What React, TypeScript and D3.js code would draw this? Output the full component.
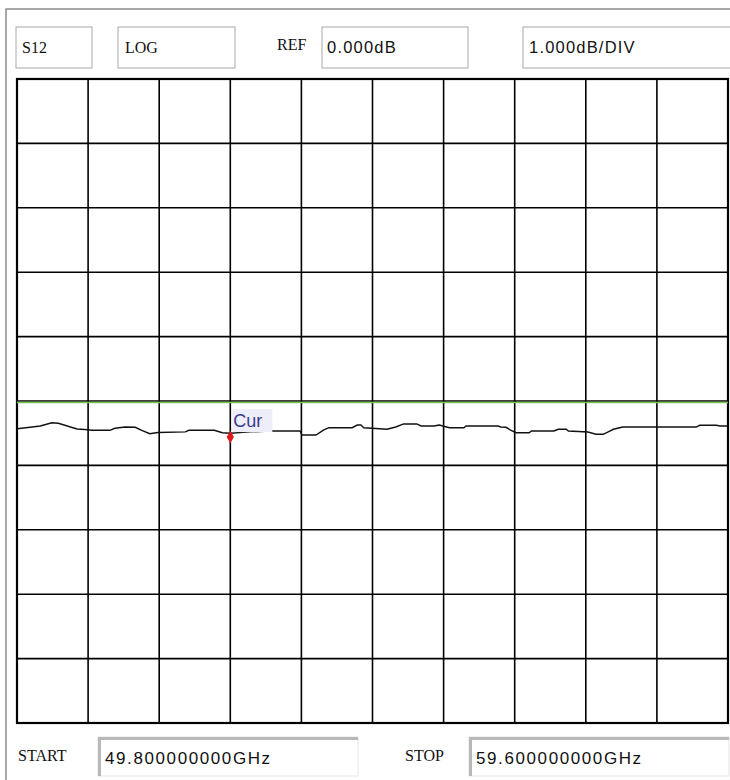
import React from 'react';
import * as d3 from 'd3';

// header / footer readouts
const param = 'S12';
const format = 'LOG';
const refLabel = 'REF';
const refValue = '0.000dB';
const scaleValue = '1.000dB/DIV';
const startLabel = 'START';
const startValue = '49.800000000GHz';
const stopLabel = 'STOP';
const stopValue = '59.600000000GHz';

const startGHz = 49.8;
const stopGHz = 59.6;
const refDb = 0;
const dbPerDiv = 1;
const divisions = 10;

// measured trace, frequency (GHz) and level (dB)
const traceFreq = [
  49.80, 50.01, 50.12, 50.28, 50.37, 50.46, 50.57, 50.63, 50.78, 50.83,
  51.08, 51.15, 51.29, 51.43, 51.52, 51.63, 51.74, 52.12, 52.17, 52.52,
  52.63, 52.74, 53.01, 53.29, 53.70, 53.73, 53.92, 54.03, 54.10, 54.42,
  54.49, 54.54, 54.58, 54.90, 55.02, 55.13, 55.31, 55.37, 55.55, 55.62,
  55.76, 55.96, 55.99, 56.43, 56.47, 56.54, 56.61, 56.68, 56.86, 56.89,
  57.20, 57.26, 57.37, 57.40, 57.67, 57.78, 57.88, 57.97, 58.02, 58.15,
  58.61, 59.16, 59.21, 59.44, 59.49, 59.60,
];
const traceDb = [
  -0.430, -0.404, -0.388, -0.337, -0.346, -0.377, -0.415, -0.435, -0.446, -0.455,
  -0.455, -0.424, -0.404, -0.408, -0.455, -0.508, -0.489, -0.480, -0.455, -0.455,
  -0.492, -0.500, -0.480, -0.466, -0.466, -0.528, -0.528, -0.450, -0.415, -0.415,
  -0.373, -0.373, -0.415, -0.439, -0.404, -0.356, -0.356, -0.388, -0.388, -0.373,
  -0.415, -0.415, -0.388, -0.388, -0.404, -0.408, -0.455, -0.492, -0.492, -0.466,
  -0.466, -0.439, -0.439, -0.466, -0.481, -0.517, -0.517, -0.466, -0.439, -0.404,
  -0.404, -0.404, -0.377, -0.377, -0.388, -0.388,
];

const markerName = 'Cur';
const markerFreq = 52.74;
const markerDb = -0.56;

const W = 730;
const H = 780;
const plot = { left: 17, right: 728, top: 79, bottom: 723 };

const serif = '"Liberation Serif", "DejaVu Serif", serif';
const sans = '"Liberation Sans", Arial, sans-serif';

export default function App() {
  const x = d3.scaleLinear().domain([startGHz, stopGHz]).range([plot.left, plot.right]);
  const y = d3.scaleLinear()
    .domain([refDb - dbPerDiv * divisions / 2, refDb + dbPerDiv * divisions / 2])
    .range([plot.bottom, plot.top]);

  const vLines = d3.range(divisions + 1).map(i => startGHz + (i * (stopGHz - startGHz)) / divisions);
  const hLines = d3.range(divisions + 1).map(i => y.domain()[0] + i * dbPerDiv);

  const points: [number, number][] = traceFreq.map((f, i) => [f, traceDb[i]]);
  const line = d3.line<[number, number]>().x(d => x(d[0])).y(d => y(d[1]));

  const marker = d3.symbol().type(d3.symbolDiamond).size(45)();
  const mx = x(markerFreq);
  const my = y(markerDb);

  const topBox = (bx: number, bw: number) => (
    <rect x={bx} y={27} width={bw} height={41} fill="#fff" stroke="#a8a8a8" strokeWidth={1} />
  );
  const sunkBox = (bx: number, bw: number) => (
    <g>
      <rect x={bx} y={737} width={bw} height={39} fill="#fff" stroke="#e4e4e4" strokeWidth={1} />
      <path d={`M${bx + 1.5},${776}V${738.5}H${bx + bw}`} fill="none" stroke="#b8b8b8" strokeWidth={3} />
    </g>
  );

  return (
    <svg width={W} height={H} style={{ position: 'absolute', left: 0, top: 0, background: '#fff' }}>
      <rect x={0} y={0} width={W} height={H} fill="#fff" />
      {/* panel edge */}
      <path d={`M6,${H}V9H${W}`} fill="none" stroke="#8c8c8c" strokeWidth={1.5} />

      {/* header */}
      {topBox(16, 76)}
      {topBox(118, 117)}
      {topBox(322, 146)}
      {topBox(523, 210)}
      <text x={22} y={53} fontFamily={serif} fontSize={16} fill="#111">{param}</text>
      <text x={125} y={53} fontFamily={serif} fontSize={16} fill="#111">{format}</text>
      <text x={277} y={50} fontFamily={serif} fontSize={16} fill="#111">{refLabel}</text>
      <text x={327} y={53} fontFamily={sans} fontSize={16.5} fill="#111" letterSpacing={1.2}>{refValue}</text>
      <text x={529} y={53} fontFamily={sans} fontSize={16.5} fill="#111" letterSpacing={1.2}>{scaleValue}</text>

      {/* grid */}
      <g stroke="#000" strokeWidth={1.6}>
        {vLines.map((f, i) => (
          <line key={'v' + i} x1={x(f)} x2={x(f)} y1={plot.top} y2={plot.bottom} />
        ))}
        {hLines.map((d, i) => (
          <line key={'h' + i} x1={plot.left} x2={plot.right} y1={y(d)} y2={y(d)} />
        ))}
      </g>
      <rect x={plot.left} y={plot.top} width={plot.right - plot.left} height={plot.bottom - plot.top}
        fill="none" stroke="#000" strokeWidth={2.2} />

      {/* reference line */}
      <line x1={plot.left} x2={plot.right} y1={y(refDb) + 1.5} y2={y(refDb) + 1.5} stroke="#7dc44e" strokeWidth={1.6} />

      {/* trace */}
      <path d={line(points) || ''} fill="none" stroke="#111" strokeWidth={1.4} />

      {/* marker */}
      <rect x={mx + 2} y={my - 28} width={40} height={23} fill="#eeeefa" />
      <text x={mx + 3} y={my - 10} fontFamily={sans} fontSize={18} fill="#3a3a8c">{markerName}</text>
      <path d={marker} transform={`translate(${mx},${my})`} fill="#e01818" />

      {/* footer */}
      <text x={18} y={761} fontFamily={serif} fontSize={16} fill="#111">{startLabel}</text>
      {sunkBox(98, 260)}
      <text x={105} y={764} fontFamily={sans} fontSize={17} fill="#111" letterSpacing={1.6}>{startValue}</text>
      <text x={405} y={761} fontFamily={serif} fontSize={16} fill="#111">{stopLabel}</text>
      {sunkBox(469, 260)}
      <text x={476} y={764} fontFamily={sans} fontSize={17} fill="#111" letterSpacing={1.6}>{stopValue}</text>
    </svg>
  );
}
